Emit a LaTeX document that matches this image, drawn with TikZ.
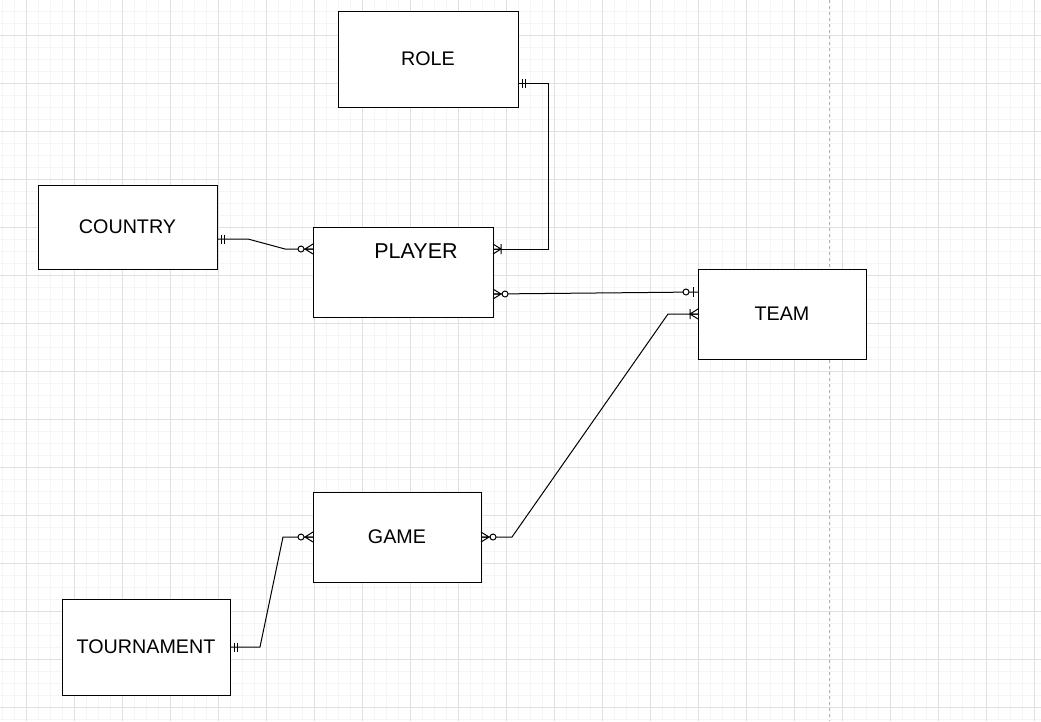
\documentclass[tikz,border=0pt]{standalone}
\usepackage{fontspec}
\setmainfont{Liberation Sans}
\begin{document}
\begin{tikzpicture}[x=1pt,y=-1pt,
  entity/.style={draw=black,fill=white,line width=1pt,inner sep=0pt,outer sep=0pt,
    font=\fontsize{19.7}{23}\selectfont},
  conn/.style={draw=black,line width=1pt},
  minorgrid/.style={draw=black!4,line width=0.8pt},
  majorgrid/.style={draw=black!12,line width=0.8pt},
  pics/erone/.style={code={\draw[line width=1pt] (4,-4.5)--(4,4.5) (7,-4.5)--(7,4.5);}},
  pics/erzmany/.style={code={\draw[line width=1pt] (0,-5)--(8,0)--(0,5) (0,0)--(8,0);
      \draw[line width=1pt,fill=white] (12,0) circle (3);}},
  pics/eromany/.style={code={\draw[line width=1pt] (0,-5)--(8,0)--(0,5) (0,0)--(8,0) (8,-5)--(8,5);}},
  pics/erzone/.style={code={\draw[line width=1pt] (5,-5)--(5,5);
      \draw[line width=1pt,fill=white] (12,0) circle (3);}},
]
\useasboundingbox (0,0) rectangle (1041,721);
\fill[white] (0,0) rectangle (1041,721);
% grid
\foreach \x in {2,14,...,1040} \draw[minorgrid] (\x,0) -- (\x,721);
\foreach \y in {11,23,...,720} \draw[minorgrid] (0,\y) -- (1041,\y);
\foreach \x in {26,74,...,1040} \draw[majorgrid] (\x,0) -- (\x,721);
\foreach \y in {35,83,...,720} \draw[majorgrid] (0,\y) -- (1041,\y);
\draw[black!30,dashed,line width=1pt] (829,0) -- (829,721);

% entities
\node[entity,minimum width=180pt,minimum height=96pt] (role) at (428,59) {\raisebox{-1pt}{ROLE}};
\node[entity,minimum width=179pt,minimum height=84pt] (country) at (127.5,227) {\raisebox{-1pt}{COUNTRY}};
\node[entity,minimum width=180pt,minimum height=90pt] (player) at (403,272) {};
\node[font=\fontsize{21.5}{25}\selectfont,inner sep=0pt] (playertext) at (416,251) {PLAYER};
\node[entity,minimum width=168pt,minimum height=90pt] (team) at (782,314) {\raisebox{-1pt}{TEAM}};
\node[entity,minimum width=168pt,minimum height=90pt] (game) at (397,537) {\raisebox{-1pt}{GAME}};
\node[entity,minimum width=168pt,minimum height=96pt] (tournament) at (146,647) {\raisebox{-1pt}{TOURNAMENT}};

% connector end points
\coordinate (roleR) at ([yshift=-24pt]role.east);
\coordinate (playerR1) at ([yshift=23pt]player.east);
\coordinate (bendRP) at (548,0);
\coordinate (countryR) at ([yshift=-12pt]country.east);
\coordinate (playerL) at ([yshift=23pt]player.west);
\coordinate (playerR2) at ([yshift=-22pt]player.east);
\coordinate (teamL1) at ([yshift=22pt]team.west);

% connectors
\draw[conn] (roleR) -- (roleR -| bendRP) -- (bendRP |- playerR1) -- (playerR1);
\draw[conn] (countryR) -- (248,239) -- (285,249) -- (playerL);
\draw[conn] (playerR2) -- (teamL1);
\draw[conn] (team.west) -- (668,314) -- (512,537) -- (game.east);
\draw[conn] (game.west) -- (283,537) -- (260,647) -- (tournament.east);

% cardinality markers
\pic at (roleR) {erone};
\pic at (playerR1) {eromany};
\pic at (countryR) {erone};
\pic[rotate=180] at (playerL) {erzmany};
\pic at (playerR2) {erzmany};
\pic[rotate=180] at (teamL1) {erzone};
\pic[rotate=180] at (team.west) {eromany};
\pic at (game.east) {erzmany};
\pic[rotate=180] at (game.west) {erzmany};
\pic at (tournament.east) {erone};
\end{tikzpicture}
\end{document}
